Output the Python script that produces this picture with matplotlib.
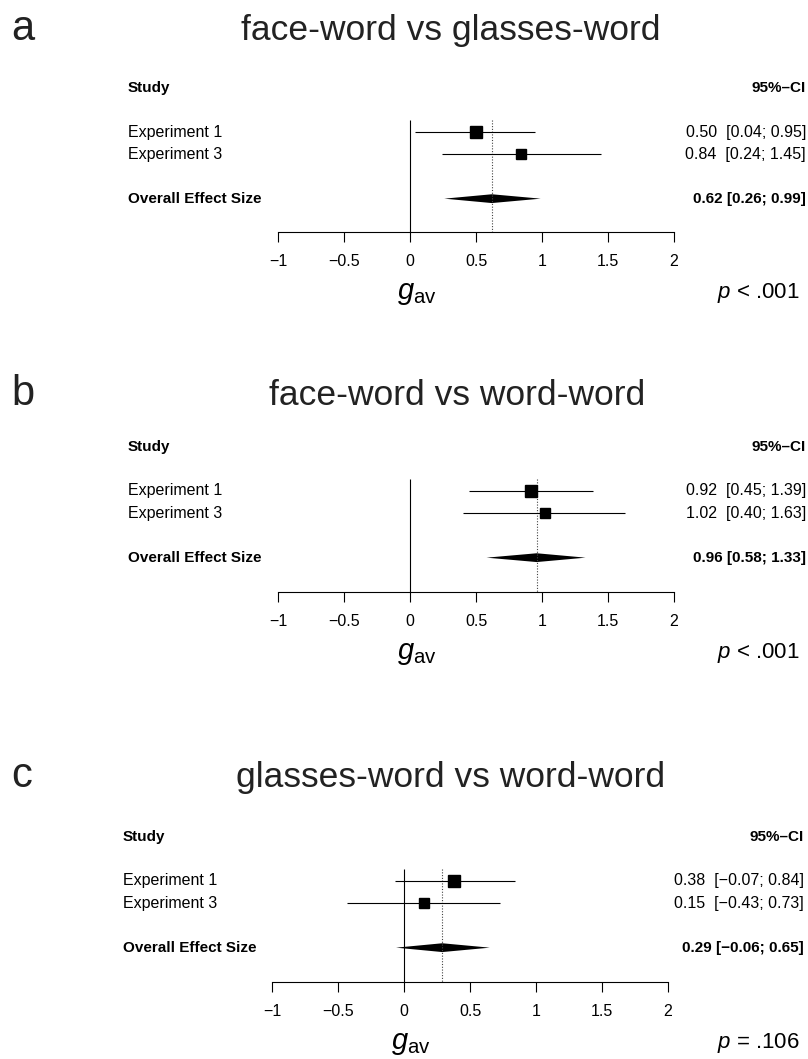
import numpy as np
import matplotlib
matplotlib.use("Agg")
import matplotlib.pyplot as plt
from matplotlib import font_manager

# data
titles = ["face-word vs glasses-word", "face-word vs word-word", "glasses-word vs word-word"]
letters = ["a", "b", "c"]
studies = ["Experiment 1", "Experiment 3"]

est_a = [0.50, 0.84]
lo_a = [0.04, 0.24]
hi_a = [0.95, 1.45]
overall_a = [0.62, 0.26, 0.99]

est_b = [0.92, 1.02]
lo_b = [0.45, 0.40]
hi_b = [1.39, 1.63]
overall_b = [0.96, 0.58, 1.33]

est_c = [0.38, 0.15]
lo_c = [-0.07, -0.43]
hi_c = [0.84, 0.73]
overall_c = [0.29, -0.06, 0.65]

p_labels = ["< .001", "< .001", "= .106"]

tick_vals = [-1, -0.5, 0, 0.5, 1, 1.5, 2]
tick_labels = ["\u22121", "\u22120.5", "0", "0.5", "1", "1.5", "2"]

# fonts
names = {f.name for f in font_manager.fontManager.ttflist}
body = "Liberation Sans" if "Liberation Sans" in names else "DejaVu Sans"
plt.rcParams["font.family"] = [body, "DejaVu Sans"]
plt.rcParams["mathtext.fontset"] = "custom"
plt.rcParams["mathtext.rm"] = body
plt.rcParams["mathtext.it"] = body + ":italic"

W, H = 808, 1059
fig = plt.figure(figsize=(W / 100, H / 100), dpi=100)

# layout in pixels
title_base = [40, 405, 787]
title_x = [451, 457, 451]
study_y = [88, 447, 837]
axis_y = [232, 592, 982]
zero_x = [410, 410, 404]
text_x = [128, 128, 123]
right_x = [806, 806, 804]
unit = 132
row = 22


def fmt(v):
    return "{:.2f}".format(v).replace("-", "\u2212")


panels = [
    (est_a, lo_a, hi_a, overall_a),
    (est_b, lo_b, hi_b, overall_b),
    (est_c, lo_c, hi_c, overall_c),
]

for i, (est, lo, hi, ov) in enumerate(panels):
    axis_row = (axis_y[i] - study_y[i]) / row
    top_px = study_y[i] - row
    ax = fig.add_axes([0, 1 - axis_y[i] / H, 1, (axis_y[i] - top_px) / H])
    ax.set_xlim(-zero_x[i] / unit, (W - zero_x[i]) / unit)
    ax.set_ylim(axis_row, -1)
    for s in ["top", "left", "right"]:
        ax.spines[s].set_visible(False)
    ax.spines["bottom"].set_bounds(-1, 2)
    ax.spines["bottom"].set_linewidth(0.8)
    ax.set_yticks([])
    ax.set_xticks(tick_vals)
    ax.set_xticklabels(tick_labels, fontsize=11.5)
    ax.tick_params(axis="x", direction="out", length=7.5, width=0.8, pad=8)
    ax.patch.set_visible(False)

    rows = [2, 3.02]
    ov_row = 5.03
    # reference lines
    ax.vlines(0, 1.45, axis_row, color="black", lw=0.8)
    ax.vlines(ov[0], 1.45, axis_row, color="#444444", lw=0.8, linestyles=(0, (1, 1.5)))

    # weights from CI width -> square size
    se = (np.array(hi) - np.array(lo)) / 3.92
    w = 1 / se ** 2
    sizes = 9.2 * np.sqrt(w / w.max())
    for e, l, h, r, sz in zip(est, lo, hi, rows, sizes):
        ax.hlines(r, l, h, color="black", lw=0.8)
        ax.plot([e], [r], marker="s", ms=sz, color="black", mec="black", ls="none")

    dh = 0.2
    ax.fill([ov[1], ov[0], ov[2], ov[0]], [ov_row, ov_row - dh, ov_row, ov_row + dh],
            color="black", lw=0)

    # left column
    tx = ax.get_yaxis_transform()
    xl = text_x[i] / W
    xr = right_x[i] / W
    ax.text(xl, 0, "Study", transform=tx, ha="left", va="center", fontsize=11, fontweight="bold")
    for s, r in zip(studies, rows):
        ax.text(xl, r, s, transform=tx, ha="left", va="center", fontsize=11.5)
    ax.text(xl, ov_row, "Overall Effect Size", transform=tx, ha="left", va="center",
            fontsize=11, fontweight="bold")

    # right column
    ax.text(xr, 0, "95%\u2013CI", transform=tx, ha="right", va="center", fontsize=11,
            fontweight="bold")
    for e, l, h, r in zip(est, lo, hi, rows):
        ax.text(xr, r, "{}  [{}; {}]".format(fmt(e), fmt(l), fmt(h)), transform=tx,
                ha="right", va="center", fontsize=11.5)
    ax.text(xr, ov_row, "{} [{}; {}]".format(fmt(ov[0]), fmt(ov[1]), fmt(ov[2])),
            transform=tx, ha="right", va="center", fontsize=11, fontweight="bold")

    # x label and p value
    lab_row = axis_row + 61 / row
    ax.text(0.05, lab_row, r"$\mathit{g}_{\mathrm{av}}$", ha="center", va="center",
            fontsize=21, clip_on=False)
    ax.text(800 / W, lab_row, r"$\mathit{p}$ " + p_labels[i], transform=tx, ha="right",
            va="center", fontsize=16)

    fig.text(title_x[i] / W, 1 - title_base[i] / H, titles[i], ha="center", va="baseline",
             fontsize=25.5, color="#222222")
    fig.text(11 / W, 1 - title_base[i] / H, letters[i], ha="left", va="baseline",
             fontsize=30, color="#222222")

fig.savefig("out.png", dpi=100)
